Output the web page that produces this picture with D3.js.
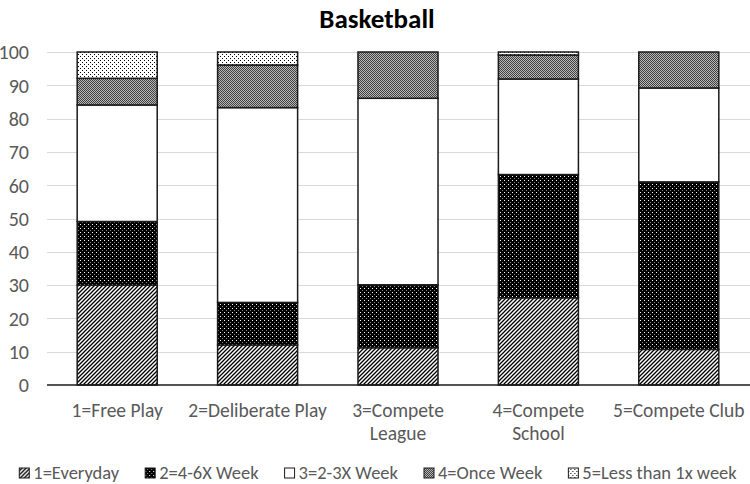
<!DOCTYPE html>
<html>
<head>
<meta charset="utf-8">
<script src="https://cdn.jsdelivr.net/npm/d3@7"></script>
<style>
  html, body { margin: 0; padding: 0; background: #fff; }
  svg { display: block; font-family: Carlito, Calibri, Lato, sans-serif; }
</style>
</head>
<body>
<svg id="chart" width="750" height="484"></svg>
<script>
// ---- data ----
const title = "Basketball";
const categories = ["1=Free Play", "2=Deliberate Play", "3=Compete League", "4=Compete School", "5=Compete Club"];
const seriesNames = ["1=Everyday", "2=4-6X Week", "3=2-3X Week", "4=Once Week", "5=Less than 1x week"];
const everyday    = [30.0, 12.0, 11.2, 26.2, 10.7];
const fourToSix   = [19.1, 12.8, 18.9, 37.0, 50.3];
const twoToThree  = [35.0, 58.5, 56.0, 28.7, 28.2];
const onceWeek    = [8.0, 12.8, 13.9, 7.2, 10.8];
const lessThanOne = [7.9, 3.9, 0.0, 0.9, 0.0];
const yTicks = [0, 10, 20, 30, 40, 50, 60, 70, 80, 90, 100];

const seriesValues = [everyday, fourToSix, twoToThree, onceWeek, lessThanOne];
const patternIds = ["p-every", "p-four", "p-two", "p-once", "p-less"];

// ---- layout ----
const svg = d3.select("#chart");
const W = 750, H = 484;
const plot = { left: 47, right: 749, top: 52, bottom: 385 };
const FONT = "Carlito, Calibri, Lato, sans-serif";

const x = d3.scaleBand().domain(categories).range([plot.left, plot.right])
  .paddingInner(0.43).paddingOuter(0.215);
const y = d3.scaleLinear().domain([0, 100]).range([plot.bottom, plot.top]);

// ---- patterns ----
const defs = svg.append("defs");
{
  const p = defs.append("pattern").attr("id", "p-every").attr("patternUnits", "userSpaceOnUse")
    .attr("width", 4).attr("height", 4);
  p.append("rect").attr("width", 4).attr("height", 4).attr("fill", "#fff");
  p.append("path").attr("d", "M-1,1 L1,-1 M0,4 L4,0 M3,5 L5,3")
    .attr("stroke", "#000").attr("stroke-width", 1.3);
}
{
  const p = defs.append("pattern").attr("id", "p-four").attr("patternUnits", "userSpaceOnUse")
    .attr("width", 4).attr("height", 4);
  p.append("rect").attr("width", 4).attr("height", 4).attr("fill", "#000");
  p.append("rect").attr("x", 0).attr("y", 0).attr("width", 1).attr("height", 1).attr("fill", "#fff");
  p.append("rect").attr("x", 2).attr("y", 2).attr("width", 1).attr("height", 1).attr("fill", "#8a8a8a");
}
{
  const p = defs.append("pattern").attr("id", "p-two").attr("patternUnits", "userSpaceOnUse")
    .attr("width", 4).attr("height", 4);
  p.append("rect").attr("width", 4).attr("height", 4).attr("fill", "#fff");
}
{
  const p = defs.append("pattern").attr("id", "p-once").attr("patternUnits", "userSpaceOnUse")
    .attr("width", 2).attr("height", 2);
  p.append("rect").attr("width", 2).attr("height", 2).attr("fill", "#b8b8b8");
  p.append("rect").attr("x", 0).attr("y", 0).attr("width", 1).attr("height", 1).attr("fill", "#404040");
  p.append("rect").attr("x", 1).attr("y", 1).attr("width", 1).attr("height", 1).attr("fill", "#404040");
}
{
  const p = defs.append("pattern").attr("id", "p-less").attr("patternUnits", "userSpaceOnUse")
    .attr("width", 4).attr("height", 4);
  p.append("rect").attr("width", 4).attr("height", 4).attr("fill", "#fff");
  p.append("rect").attr("x", 0).attr("y", 0).attr("width", 1).attr("height", 1).attr("fill", "#000");
  p.append("rect").attr("x", 2).attr("y", 2).attr("width", 1).attr("height", 1).attr("fill", "#000");
}

// ---- title ----
svg.append("text").attr("x", 377).attr("y", 28).attr("text-anchor", "middle")
  .attr("font-size", 27).attr("font-weight", "bold").attr("fill", "#000").text(title);

// ---- gridlines & y axis ----
const yAxis = d3.axisLeft(y).tickValues(yTicks).tickSize(0).tickPadding(0);
const gy = svg.append("g").attr("transform", `translate(${plot.left - 18},0)`).call(yAxis);
gy.select(".domain").remove();
gy.selectAll("text").attr("fill", "#595959").attr("font-size", 20)
  .attr("font-family", FONT).attr("dy", "0.34em");

svg.append("g").selectAll("line").data(yTicks.filter(d => d > 0)).join("line")
  .attr("x1", plot.left).attr("x2", W).attr("y1", d => Math.round(y(d)) + 0.5).attr("y2", d => Math.round(y(d)) + 0.5)
  .attr("stroke", "#d9d9d9").attr("stroke-width", 1);

// ---- stacked bars ----
const rows = categories.map((c, i) => {
  const r = { cat: c };
  seriesNames.forEach((s, j) => r[s] = seriesValues[j][i]);
  return r;
});
const stacked = d3.stack().keys(seriesNames)(rows);

const layers = svg.append("g").selectAll("g").data(stacked).join("g")
  .attr("fill", (d, i) => `url(#${patternIds[i]})`);
layers.selectAll("rect").data(d => d.filter(v => v[1] - v[0] > 0)).join("rect")
  .attr("x", d => x(d.data.cat))
  .attr("width", x.bandwidth())
  .attr("y", d => y(d[1]))
  .attr("height", d => y(d[0]) - y(d[1]))
  .attr("stroke", "#1a1a1a").attr("stroke-width", 1.5);

// ---- x axis ----
svg.append("line").attr("x1", plot.left).attr("x2", W)
  .attr("y1", plot.bottom).attr("y2", plot.bottom)
  .attr("stroke", "#1a1a1a").attr("stroke-width", 1.5);

const xAxis = d3.axisBottom(x).tickSize(0).tickPadding(0);
const gx = svg.append("g").attr("transform", `translate(0,${plot.bottom})`).call(xAxis);
gx.select(".domain").remove();
gx.selectAll("text").attr("fill", "#595959").attr("font-size", 19.5)
  .attr("font-family", FONT)
  .attr("dy", null).attr("y", 32)
  .each(function (d) {
    const t = d3.select(this);
    const maxW = x.step() + 4;
    const words = d.split(" ");
    t.text(null);
    let line = [];
    let tspan = t.append("tspan").attr("x", 0).attr("y", 32);
    let lineNo = 0;
    words.forEach(w => {
      line.push(w);
      tspan.text(line.join(" "));
      if (tspan.node().getComputedTextLength() > maxW && line.length > 1) {
        line.pop();
        tspan.text(line.join(" "));
        line = [w];
        lineNo++;
        tspan = t.append("tspan").attr("x", 0).attr("y", 32 + lineNo * 23).text(w);
      }
    });
  });

// ---- legend ----
const legend = svg.append("g").attr("font-size", 18.5).attr("fill", "#595959");
const items = legend.selectAll("g").data(seriesNames).join("g");
items.append("rect").attr("width", 10).attr("height", 10).attr("y", -11)
  .attr("fill", (d, i) => `url(#${patternIds[i]})`).attr("stroke", "#1a1a1a").attr("stroke-width", 1);
items.append("text").attr("x", 14).attr("y", 0).text(d => d);
let widths = [];
items.each(function () { widths.push(d3.select(this).select("text").node().getComputedTextLength() + 14); });
const gap = 26;
const total = d3.sum(widths) + gap * (widths.length - 1);
let cx = (W - total) / 2 + 3;
items.attr("transform", (d, i) => {
  const tx = cx; cx += widths[i] + gap;
  return `translate(${tx},${479})`;
});
</script>
</body>
</html>
